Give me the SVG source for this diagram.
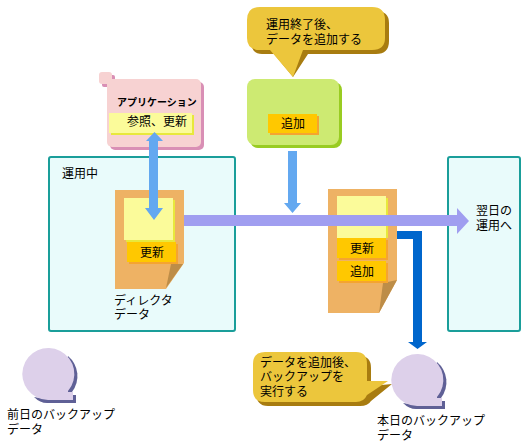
<svg xmlns="http://www.w3.org/2000/svg" xmlns:xlink="http://www.w3.org/1999/xlink" width="529" height="446" viewBox="0 0 529 446">
<style>
text{font-family:"Liberation Sans","Noto Sans CJK JP",sans-serif;font-size:12px;fill:#000}
.b{font-weight:700;font-size:10px}
.frame{fill:#e9fbfb;stroke:#1a9e9a;stroke-width:2}
.doc{fill:#eeb264}
.fold{fill:#bd8d48}
.y{fill:#fbfb9a}
.ys{fill:#e8e83c}
.o{fill:#ffc800}
.os{fill:#f5a430}
.bub{fill:#ecc63c}
.bubs{fill:#a87c10}
.disc{fill:#ddd0ea}
.discs{fill:#5f6096}
</style>
<defs>
<g id="disc-shape">
<path class="discs" d="M68 356A26 26 0 0 1 72 392H60Z"/>
<path class="discs" d="M34 397Q40 403 47 403H76V395H70V398H40Z"/>
<path class="disc" d="M48 400A26 26 0 1 1 68 391V392H73V400Z"/>
</g>
</defs>
<rect width="529" height="446" fill="#fff"/>
<g id="frame-today"><rect class="frame" x="49" y="157" width="186" height="174" rx="2"/><text x="62" y="178">運用中</text></g>
<g id="frame-next"><rect class="frame" x="448" y="157" width="72" height="174" rx="2"/><text x="476" y="215">翌日の</text><text x="476" y="230">運用へ</text></g>
<g id="doc-1">
<path class="doc" d="M115 190H184V263L166 289H115Z"/>
<path class="fold" d="M183 264H171L166 288Z"/>
<rect class="ys" x="126" y="200" width="49" height="42"/><rect class="y" x="124" y="198" width="49" height="42"/>
<rect class="os" x="129" y="244" width="49" height="20"/><rect class="o" x="127" y="242" width="49" height="20"/>
<text x="140" y="257">更新</text>
<text x="114" y="305">ディレクタ</text><text x="114" y="319">データ</text>
</g>
<g id="doc-2">
<path class="doc" d="M328 189H397V280L379 313H328Z"/>
<path class="fold" d="M397 280L383 283L379 313Z"/>
<rect class="ys" x="386" y="198" width="2" height="40"/><rect class="y" x="337" y="196" width="49" height="42"/>
<rect class="os" x="339" y="240" width="49" height="20"/><rect class="o" x="337" y="238" width="49" height="20"/>
<text x="350" y="253">更新</text>
<rect class="os" x="339" y="263" width="49" height="20"/><rect class="o" x="337" y="261" width="49" height="20"/>
<text x="350" y="276">追加</text>
</g>
<g id="app">
<rect x="102" y="75" width="13" height="12" rx="2" fill="#d98fb5"/>
<rect x="110" y="82" width="94" height="68" rx="5" fill="#d98fb5"/>
<rect x="107" y="79" width="94" height="68" rx="5" fill="#f7d2d2"/>
<rect x="99" y="72" width="13" height="12" rx="3" fill="#f7d2d2"/>
<rect class="ys" x="111" y="115" width="83" height="20"/><rect class="y" x="109" y="113" width="83" height="20"/>
<text class="b" x="117" y="106">アプリケーション</text>
<text x="127" y="126">参照、更新</text>
</g>
<g id="add">
<rect x="250" y="82" width="92" height="66" rx="8" fill="#99cc22"/>
<rect x="247" y="79" width="92" height="66" rx="8" fill="#cdea72"/>
<rect class="os" x="270" y="116" width="49" height="19"/><rect class="o" x="268" y="114" width="49" height="19"/>
<text x="281" y="128">追加</text>
</g>
<g id="callout-top">
<path class="bubs" d="M262 11H376Q389 11 389 23V41Q389 54 376 54H308L293 77L274 54H262Q251 54 251 41V23Q251 11 262 11Z"/>
<path class="bub" d="M260 7H372Q385 7 385 20V38Q385 50 372 50H303L293 77L270 50H260Q247 50 247 38V20Q247 7 260 7Z"/>
<text x="266" y="29">運用終了後、</text><text x="266" y="44">データを追加する</text>
</g>
<g id="connectors">
<path fill="#a09ef0" d="M184 215H457V208L469 221L457 234V226H184Z"/>
<path fill="#0066cc" d="M397 231H422V342H427L417.500 349L408 342H413V239H397Z"/>
<path fill="#63a8f0" d="M149 141H146L154.500 132L163 141H158V208H163L154 220L145 208H149Z"/>
<path fill="#63a8f0" d="M288 151H297V203H301L292.500 213L284 203H288Z"/>
</g>
<g id="callout-bottom">
<path class="bubs" d="M268 356H360Q371 356 371 368V386L392 384L371 401Q368 406 360 406H268Q256 406 256 392V368Q256 356 268 356Z"/>
<path class="bub" d="M265 352H356Q367 352 367 364V381H388L367 395Q364 402 356 402H265Q253 402 253 390V364Q253 352 265 352Z"/>
<text x="260" y="367">データを追加後、</text><text x="260" y="381">バックアップを</text><text x="260" y="396">実行する</text>
</g>
<g id="backup-today">
<use xlink:href="#disc-shape" href="#disc-shape" transform="translate(369 6)"/>
<text x="377" y="425">本日のバックアップ</text><text x="377" y="440">データ</text>
</g>
<g id="backup-prev">
<use xlink:href="#disc-shape" href="#disc-shape"/>
<text x="7" y="419">前日のバックアップ</text><text x="7" y="434">データ</text>
</g>
</svg>
